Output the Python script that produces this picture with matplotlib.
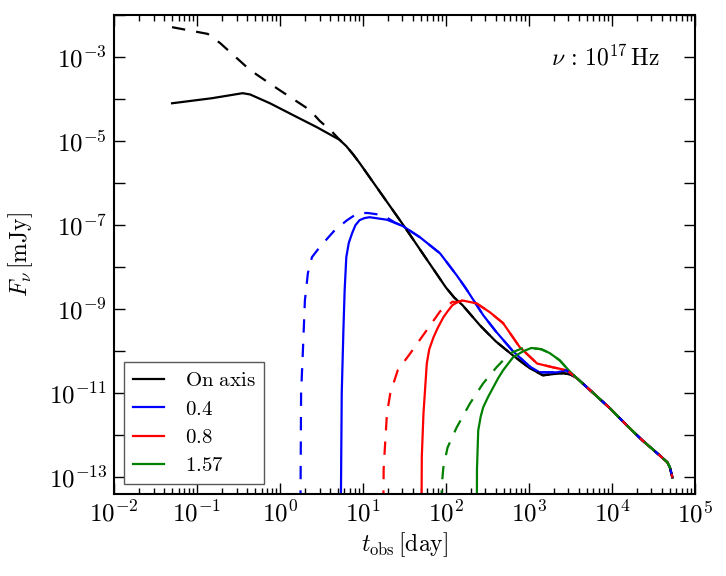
import numpy as np
import matplotlib
matplotlib.use("Agg")
import matplotlib.pyplot as plt
from matplotlib.ticker import FixedLocator, FixedFormatter, LogLocator, NullFormatter

plt.rcParams['mathtext.fontset'] = 'cm'
plt.rcParams['font.size'] = 15

# values as log10(t / day), log10(F / mJy)
tail_lt = [3.58, 3.77, 3.98, 4.18, 4.37, 4.58, 4.67, 4.70, 4.73]
tail_lF = [-10.64, -10.98, -11.36, -11.76, -12.12, -12.48, -12.64, -12.76, -13.0]

# on axis
onaxis_lt = [-1.30, -0.82, -0.45, -0.36, -0.12, 0.157, 0.446, 0.72, 0.80, 0.88, 0.96,
             1.506, 2.0, 2.1, 2.2, 2.41, 2.60, 2.81, 3.01, 3.17, 3.30, 3.42, 3.50]
onaxis_lF = [-4.10, -3.98, -3.86, -3.89, -4.10, -4.38, -4.67, -4.97, -5.12, -5.31, -5.52,
             -7.05, -8.48, -8.72, -8.90, -9.38, -9.76, -10.10, -10.40, -10.57, -10.54, -10.52, -10.55]
onaxis_dash_lt = [-1.30, -0.87, -0.72, -0.36, -0.04, 0.36, 0.48, 0.62]
onaxis_dash_lF = [-2.29, -2.45, -2.67, -3.31, -3.74, -4.26, -4.52, -4.76]

# 0.4
a04_lt = [0.725, 0.745, 0.765, 0.78, 0.80, 0.83, 0.87, 0.91, 0.96, 1.02, 1.08, 1.29, 1.48,
          1.69, 1.93, 2.13, 2.24, 2.45, 2.60, 2.81, 3.01, 3.13, 3.34, 3.45]
a04_lF = [-16.0, -11.0, -9.5, -8.55, -7.76, -7.42, -7.19, -7.0, -6.88, -6.83, -6.81, -6.87, -7.02,
          -7.29, -7.67, -8.19, -8.50, -9.14, -9.52, -10.0, -10.36, -10.50, -10.50, -10.45]
a04_dash_lt = [0.241, 0.255, 0.277, 0.301, 0.337, 0.386, 0.48, 0.66, 0.81, 0.94, 1.06, 1.24, 1.38]
a04_dash_lF = [-16.0, -11.0, -9.98, -8.79, -8.14, -7.76, -7.52, -7.12, -6.88, -6.71, -6.71, -6.76, -6.93]

# 0.8
a08_lt = [1.70, 1.71, 1.73, 1.77, 1.80, 1.85, 1.90, 1.97, 2.02, 2.08, 2.14, 2.20, 2.37, 2.53,
          2.69, 2.89, 3.10, 3.29, 3.46, 3.52]
a08_lF = [-16.0, -12.5, -11.48, -10.29, -9.95, -9.67, -9.45, -9.19, -9.05, -8.90, -8.83, -8.79,
          -8.86, -9.07, -9.33, -9.90, -10.29, -10.38, -10.45, -10.55]
a08_dash_lt = [1.24, 1.25, 1.265, 1.29, 1.33, 1.42, 1.57, 1.75, 1.93, 2.08]
a08_dash_lF = [-16.0, -12.8, -12.29, -11.48, -11.0, -10.45, -10.05, -9.55, -9.05, -8.82]

# 1.57
a157_lt = [2.37, 2.375, 2.39, 2.42, 2.45, 2.51, 2.57, 2.63, 2.69, 2.81, 2.93, 3.03, 3.15,
           3.25, 3.37, 3.49]
a157_lF = [-16.0, -12.8, -11.88, -11.55, -11.33, -11.08, -10.86, -10.64, -10.45, -10.14, -10.0,
           -9.92, -9.95, -10.04, -10.21, -10.47]
a157_dash_lt = [1.93, 1.95, 1.97, 2.02, 2.13, 2.29, 2.45, 2.61, 2.77, 2.93]
a157_dash_lF = [-16.0, -13.2, -12.76, -12.29, -11.81, -11.24, -10.76, -10.38, -10.05, -9.92]

labels = [r'$\mathrm{On\ axis}$', r'$0.4$', r'$0.8$', r'$1.57$']
colors = ['k', 'b', 'r', 'g']

x_ticks = [1e-2, 1e-1, 1e0, 1e1, 1e2, 1e3, 1e4, 1e5]
x_labels = [r'$10^{-2}$', r'$10^{-1}$', r'$10^{0}$', r'$10^{1}$', r'$10^{2}$',
            r'$10^{3}$', r'$10^{4}$', r'$10^{5}$']
y_ticks = [1e-13, 1e-11, 1e-9, 1e-7, 1e-5, 1e-3]
y_labels = [r'$10^{-13}$', r'$10^{-11}$', r'$10^{-9}$', r'$10^{-7}$', r'$10^{-5}$', r'$10^{-3}$']
y_minor = [1e-12, 1e-10, 1e-8, 1e-6, 1e-4, 1e-2]


def full(lt, lF, base_lt=None, base_lF=None):
    # glue a curve onto the common late-time tail (or onto another curve)
    if base_lt is None:
        x = list(lt) + tail_lt
        y = list(lF) + tail_lF
    else:
        start = max(lt)
        x = list(lt) + [v for v in base_lt if v > start]
        y = list(lF) + [f for v, f in zip(base_lt, base_lF) if v > start]
    return 10 ** np.array(x), 10 ** np.array(y)


solid = [full(onaxis_lt, onaxis_lF), full(a04_lt, a04_lF),
         full(a08_lt, a08_lF), full(a157_lt, a157_lF)]
dashed = [full(onaxis_dash_lt, onaxis_dash_lF, onaxis_lt + tail_lt, onaxis_lF + tail_lF),
          full(a04_dash_lt, a04_dash_lF, a04_lt + tail_lt, a04_lF + tail_lF),
          full(a08_dash_lt, a08_dash_lF, a08_lt + tail_lt, a08_lF + tail_lF),
          full(a157_dash_lt, a157_dash_lF, a157_lt + tail_lt, a157_lF + tail_lF)]

fig = plt.figure(figsize=(7.26, 5.76), dpi=100)
ax = fig.add_axes([0.157, 0.142, 0.8, 0.832])

handles = []
for (x, y), c, lab in zip(solid, colors, labels):
    h, = ax.plot(x, y, color=c, lw=1.6, label=lab)
    handles.append(h)
for (x, y), c in zip(dashed, colors):
    ax.plot(x, y, color=c, lw=1.6, ls='--', dashes=(6, 5))

ax.set_xscale('log')
ax.set_yscale('log')
ax.set_xlim(1e-2, 1e5)
ax.set_ylim(4e-14, 1e-2)

ax.xaxis.set_major_locator(FixedLocator(x_ticks))
ax.xaxis.set_major_formatter(FixedFormatter(x_labels))
ax.xaxis.set_minor_locator(LogLocator(base=10, subs=np.arange(2, 10)))
ax.xaxis.set_minor_formatter(NullFormatter())
ax.yaxis.set_major_locator(FixedLocator(y_ticks))
ax.yaxis.set_major_formatter(FixedFormatter(y_labels))
ax.yaxis.set_minor_locator(FixedLocator(y_minor))
ax.yaxis.set_minor_formatter(NullFormatter())

ax.tick_params(which='both', direction='in', top=True, right=True, labelsize=18)
ax.tick_params(which='major', length=8, width=1)
ax.tick_params(axis='x', which='minor', length=4, width=1)
ax.tick_params(axis='y', which='minor', length=8, width=1)
ax.tick_params(axis='x', pad=5)
ax.tick_params(axis='y', pad=5)
for s in ax.spines.values():
    s.set_linewidth(1.5)

ax.set_xlabel(r'$t_\mathrm{obs}\,[\mathrm{day}]$', fontsize=17, labelpad=2)
ax.set_ylabel(r'$F_\nu\,[\mathrm{mJy}]$', fontsize=17, labelpad=10)

ax.text(0.94, 0.912, r'$\nu\,:\,10^{17}\,\mathrm{Hz}$', transform=ax.transAxes,
        ha='right', va='center', fontsize=17)

leg = ax.legend(handles=handles, loc='lower left', fontsize=15, fancybox=False,
                framealpha=1, edgecolor='0.35', handlelength=1.5, handletextpad=1.0,
                labelspacing=0.4, borderaxespad=0.5)
leg.get_frame().set_linewidth(1.0)

fig.savefig('out.png', dpi=100)
